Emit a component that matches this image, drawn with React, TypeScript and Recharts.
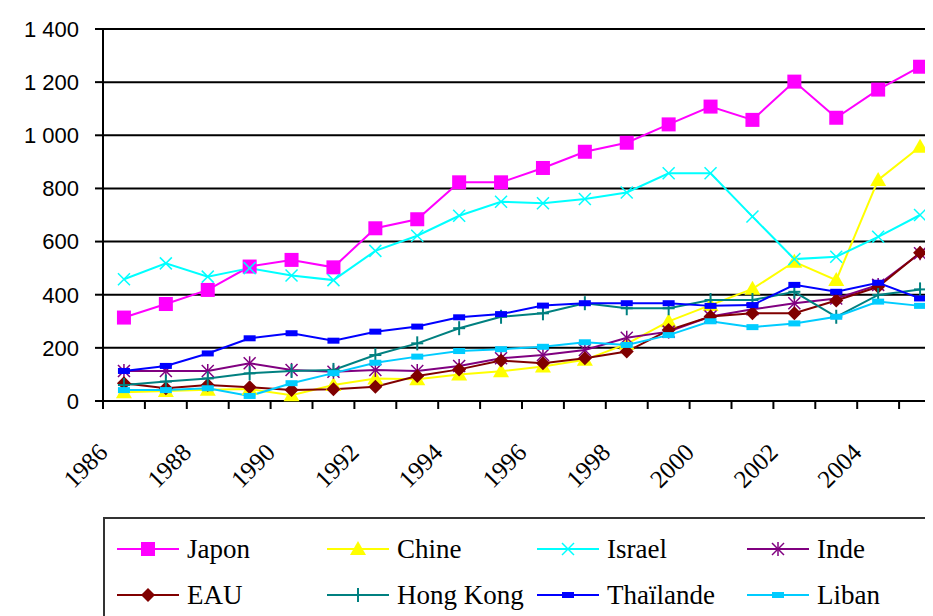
import React from "react";
import { CartesianGrid, Legend, Line, LineChart, XAxis, YAxis } from "recharts";

const years = [
  1986, 1987, 1988, 1989, 1990, 1991, 1992, 1993, 1994, 1995,
  1996, 1997, 1998, 1999, 2000, 2001, 2002, 2003, 2004, 2005
];

const japon = [314, 365, 418, 506, 531, 503, 650, 684, 823, 823, 877, 938, 972, 1041, 1108, 1058, 1202, 1066, 1172, 1258];
const chine = [33, 38, 42, 45, 22, 60, 85, 82, 100, 112, 130, 155, 215, 300, 361, 422, 524, 455, 832, 957];
const israel = [458, 518, 468, 500, 472, 455, 565, 622, 697, 750, 744, 760, 785, 857, 857, 694, 534, 543, 618, 700];
const inde = [113, 113, 113, 142, 117, 110, 117, 113, 132, 161, 173, 192, 238, 261, 318, 345, 368, 386, 437, 556];
const eau = [67, 48, 60, 52, 41, 44, 54, 94, 119, 152, 142, 161, 186, 267, 318, 330, 330, 378, 430, 558];
const hongKong = [60, 73, 85, 104, 113, 117, 173, 217, 274, 317, 330, 368, 349, 349, 380, 380, 411, 317, 399, 420];
const thailande = [113, 132, 179, 236, 255, 227, 261, 280, 315, 327, 359, 368, 368, 368, 358, 361, 437, 411, 445, 386];
const liban = [41, 41, 48, 19, 67, 105, 144, 167, 188, 195, 204, 221, 211, 248, 300, 278, 292, 317, 374, 358];

const yTicks = [0, 200, 400, 600, 800, 1000, 1200, 1400];

const serif = "Liberation Serif";

type Shape = "square" | "triangle" | "x" | "star" | "diamond" | "plus" | "dash";

const series: { key: string; name: string; color: string; shape: Shape; values: number[] }[] = [
  { key: "japon", name: "Japon", color: "#FF00FF", shape: "square", values: japon },
  { key: "chine", name: "Chine", color: "#FFFF00", shape: "triangle", values: chine },
  { key: "israel", name: "Israel", color: "#00FFFF", shape: "x", values: israel },
  { key: "inde", name: "Inde", color: "#800080", shape: "star", values: inde },
  { key: "eau", name: "EAU", color: "#800000", shape: "diamond", values: eau },
  { key: "hk", name: "Hong Kong", color: "#008080", shape: "plus", values: hongKong },
  { key: "thai", name: "Thaïlande", color: "#0000FF", shape: "dash", values: thailande },
  { key: "liban", name: "Liban", color: "#00CCFF", shape: "dash", values: liban }
];

// x sits in the middle of each year slot so ticks fall between the years (Excel style)
const data = years.map((year, i) => {
  const row: Record<string, number> = { year, x: i + 0.5 };
  series.forEach((s) => {
    row[s.key] = s.values[i];
  });
  return row;
});

const slotTicks = years.map((_, i) => i).concat(years.length);

function marker(shape: Shape, cx: number, cy: number, color: string, key?: string) {
  switch (shape) {
    case "square":
      return <rect key={key} x={cx - 7} y={cy - 7} width={14} height={14} fill={color} />;
    case "triangle":
      return <polygon key={key} points={`${cx},${cy - 8} ${cx + 8},${cy + 6} ${cx - 8},${cy + 6}`} fill={color} />;
    case "diamond":
      return <polygon key={key} points={`${cx},${cy - 7} ${cx + 7},${cy} ${cx},${cy + 7} ${cx - 7},${cy}`} fill={color} />;
    case "x":
      return (
        <g key={key} stroke={color} strokeWidth={1.5}>
          <line x1={cx - 6} y1={cy - 6} x2={cx + 6} y2={cy + 6} />
          <line x1={cx - 6} y1={cy + 6} x2={cx + 6} y2={cy - 6} />
        </g>
      );
    case "star":
      return (
        <g key={key} stroke={color} strokeWidth={1.5}>
          <line x1={cx - 6} y1={cy - 6} x2={cx + 6} y2={cy + 6} />
          <line x1={cx - 6} y1={cy + 6} x2={cx + 6} y2={cy - 6} />
          <line x1={cx} y1={cy - 7} x2={cx} y2={cy + 7} />
        </g>
      );
    case "plus":
      return (
        <g key={key} stroke={color} strokeWidth={2}>
          <line x1={cx} y1={cy - 7} x2={cx} y2={cy + 7} />
          <line x1={cx - 6} y1={cy} x2={cx + 6} y2={cy} />
        </g>
      );
    default:
      return <rect key={key} x={cx - 6} y={cy - 3} width={12} height={6} fill={color} />;
  }
}

function YearTick(props: any) {
  const { x, y, payload } = props;
  const i = payload.value;
  if (i % 2 !== 0 || i >= years.length) return <g />;
  const tx = x + 6;
  const ty = y + 43;
  return (
    <text
      x={tx}
      y={ty}
      textAnchor="end"
      transform={`rotate(-45, ${tx}, ${ty})`}
      fontFamily={serif}
      fontSize={25}
      fill="#000"
    >
      {years[i]}
    </text>
  );
}

function LegendBox() {
  return (
    <div
      style={{
        position: "relative",
        width: "100%",
        height: "100%",
        border: "2px solid #333",
        boxSizing: "border-box",
        background: "#fff"
      }}
    >
      {series.map((s, i) => {
        const col = i % 4;
        const row = Math.floor(i / 4);
        return (
          <div
            key={s.key}
            style={{
              position: "absolute",
              left: 10 + col * 210,
              top: 14 + row * 46,
              height: 32,
              display: "flex",
              alignItems: "center",
              whiteSpace: "nowrap"
            }}
          >
            <svg width={66} height={32}>
              <line x1={2} y1={16} x2={64} y2={16} stroke={s.color} strokeWidth={2} />
              {marker(s.shape, 33, 16, s.color)}
            </svg>
            <span
              style={{
                marginLeft: 6,
                fontFamily: serif,
                fontSize: 27,
                color: "#000",
                lineHeight: "32px"
              }}
            >
              {s.name}
            </span>
          </div>
        );
      })}
    </div>
  );
}

export default function App() {
  return (
    <div style={{ width: 925, height: 608, overflow: "hidden", background: "#fff" }}>
      <LineChart
        width={960}
        height={640}
        data={data}
        margin={{ top: 21, right: 27, left: 10, bottom: 137 }}
      >
        <CartesianGrid vertical={false} stroke="#000" strokeWidth={2} />
        <XAxis
          type="number"
          dataKey="x"
          domain={[0, years.length]}
          ticks={slotTicks}
          interval={0}
          height={110}
          tick={<YearTick />}
          tickSize={8}
          tickLine={{ stroke: "#000", strokeWidth: 2 }}
          axisLine={{ stroke: "#000", strokeWidth: 2 }}
        />
        <YAxis
          domain={[0, 1400]}
          ticks={yTicks}
          interval={0}
          width={85}
          tickSize={8}
          tickMargin={16}
          tickFormatter={(v: number) => v.toLocaleString("fr-FR").replace(/\u202f|\u00a0/g, " ")}
          tick={{ fontFamily: "Liberation Sans", fontSize: 22, fill: "#000" }}
          tickLine={{ stroke: "#000", strokeWidth: 2 }}
          axisLine={{ stroke: "#000", strokeWidth: 2 }}
        />
        <Legend
          layout="horizontal"
          verticalAlign="middle"
          align="center"
          wrapperStyle={{ left: 95, top: 509, width: 860, height: 110 }}
          content={() => <LegendBox />}
        />
        {series.map((s) => (
          <Line
            key={s.key}
            type="linear"
            dataKey={s.key}
            name={s.name}
            stroke={s.color}
            strokeWidth={2}
            isAnimationActive={false}
            dot={(p: any) => marker(s.shape, p.cx, p.cy, s.color, `${s.key}-${p.index}`)}
            activeDot={false}
          />
        ))}
      </LineChart>
    </div>
  );
}
